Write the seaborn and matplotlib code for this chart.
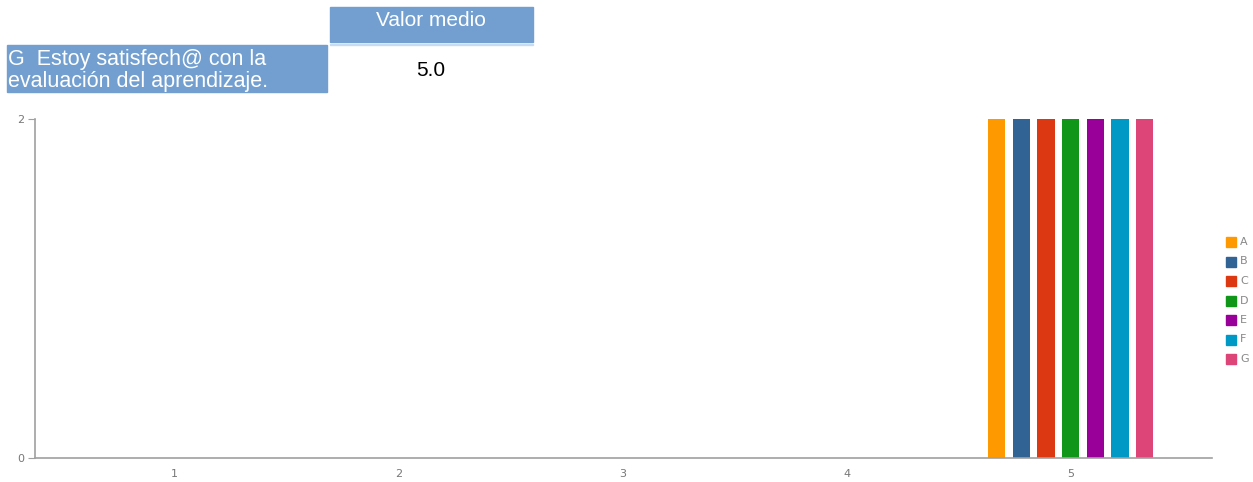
import matplotlib
matplotlib.use("Agg")
import matplotlib.pyplot as plt
from matplotlib.patches import Rectangle
import seaborn as sns
import pandas as pd

categories = ["1", "2", "3", "4", "5"]
series = ["A", "B", "C", "D", "E", "F", "G"]
values = {
    "A": [0, 0, 0, 0, 2],
    "B": [0, 0, 0, 0, 2],
    "C": [0, 0, 0, 0, 2],
    "D": [0, 0, 0, 0, 2],
    "E": [0, 0, 0, 0, 2],
    "F": [0, 0, 0, 0, 2],
    "G": [0, 0, 0, 0, 2],
}
colors = ["#FF9900", "#316395", "#DC3912", "#109618", "#990099", "#0099C6", "#DD4477"]
y_ticks = [0, 2]
header_text = "Valor medio"
row_label = "G  Estoy satisfech@ con la\nevaluación del aprendizaje."
row_value = "5.0"

rows = []
for s in series:
    for c, v in zip(categories, values[s]):
        rows.append({"cat": c, "serie": s, "val": v})
df = pd.DataFrame(rows)

sns.set_style("white")
plt.rcParams["font.family"] = ["Liberation Sans", "DejaVu Sans"]

W, H = 1253, 482
fig = plt.figure(figsize=(W / 100, H / 100), dpi=100)

def fx(px):
    return px / W

def fy(py):
    return 1 - py / H

ax = fig.add_axes([fx(35), fy(458), fx(1212) - fx(35), fy(119) - fy(458)])
sns.barplot(data=df, x="cat", y="val", hue="serie", order=categories,
            hue_order=series, palette=colors, width=0.77, gap=0.3,
            saturation=1, ax=ax, legend=False, linewidth=0)
ax.set_xlim(-0.62, 4.63)
ax.set_ylim(0, 2)
ax.set_yticks(y_ticks)
ax.set_xlabel("")
ax.set_ylabel("")
for side in ["top", "right"]:
    ax.spines[side].set_visible(False)
for side in ["left", "bottom"]:
    ax.spines[side].set_color("#a0a0a0")
    ax.spines[side].set_linewidth(1.2)
ax.tick_params(axis="y", length=5, color="#a0a0a0", labelsize=8,
               labelcolor="#777777", left=True, pad=3)
ax.tick_params(axis="x", length=0, labelsize=8, labelcolor="#777777", pad=8)
for lbl in ax.get_xticklabels() + ax.get_yticklabels():
    lbl.set_family(["DejaVu Sans"])

# legend
for i, (s, col) in enumerate(zip(series, colors)):
    yc = 242 + i * 19.5
    fig.patches.append(Rectangle((fx(1226), fy(yc + 5)), fx(10), fy(yc - 5) - fy(yc + 5),
                                 transform=fig.transFigure, color=col))
    fig.text(fx(1240), fy(yc), s, color="#888888", fontsize=8,
             va="center", ha="left", family=["DejaVu Sans"])

# table on top
blue = "#729fcf"
fig.patches.append(Rectangle((fx(330), fy(42)), fx(533) - fx(330), fy(7) - fy(42),
                             transform=fig.transFigure, color=blue))
fig.patches.append(Rectangle((fx(330), fy(45)), fx(533) - fx(330), fy(43.5) - fy(45),
                             transform=fig.transFigure, color="#c6dcf2"))
fig.text(fx(431), fy(21), header_text, color="white", fontsize=15,
         ha="center", va="center")
label_box = Rectangle((fx(7), fy(92)), fx(327) - fx(7), fy(45) - fy(92),
                      transform=fig.transFigure, color=blue)
fig.patches.append(label_box)
t = fig.text(fx(8), fy(49), row_label, color="white", fontsize=15.5,
             ha="left", va="top", linespacing=1.05)
t.set_clip_path(label_box)
fig.text(fx(431), fy(71), row_value, color="black", fontsize=15,
         ha="center", va="center")

fig.savefig("out.png", dpi=100)
